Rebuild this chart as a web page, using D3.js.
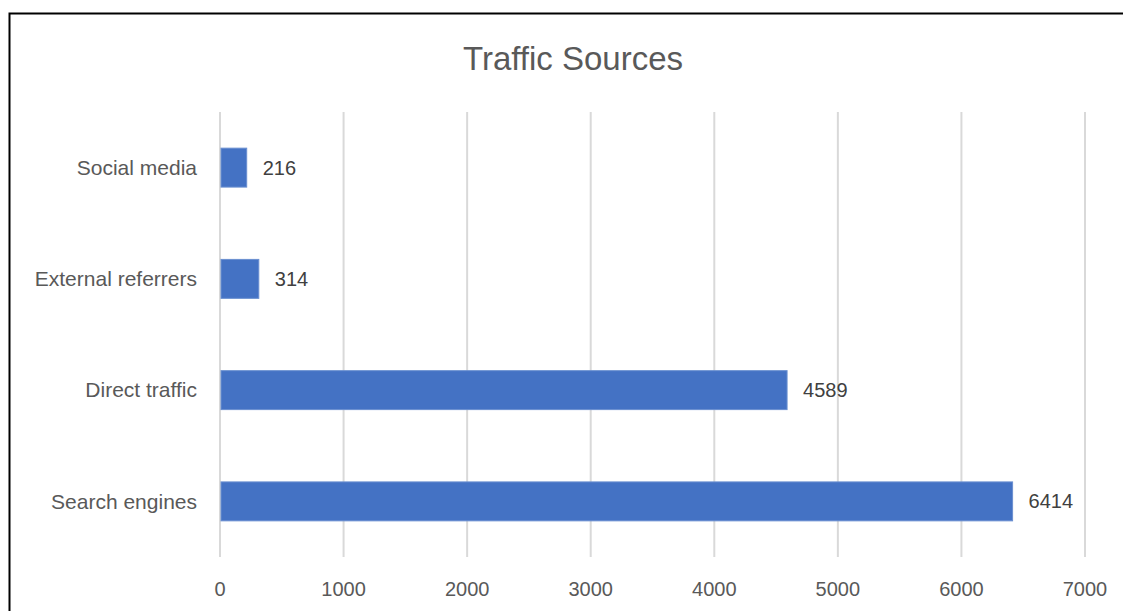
<!DOCTYPE html>
<html>
<head>
<meta charset="utf-8">
<script src="https://cdn.jsdelivr.net/npm/d3@7"></script>
<style>
  body { margin: 0; background: #fff; }
  text { font-family: "Liberation Sans", Arial, sans-serif; }
</style>
</head>
<body>
<div id="chart"></div>
<script>
// chart data
var categories = ["Search engines", "Direct traffic", "External referrers", "Social media"];
var values = [6414, 4589, 314, 216];
var xTicks = [0, 1000, 2000, 3000, 4000, 5000, 6000, 7000];

var W = 1123, H = 611;
var margin = { top: 112, left: 220, right: 38, bottom: 54 };
var width = W - margin.left - margin.right;
var height = H - margin.top - margin.bottom;

var svg = d3.select("#chart")
    .append("svg")
    .attr("width", W)
    .attr("height", H);

// outer frame (only top and left edges visible)
svg.append("rect")
    .attr("x", 9.5).attr("y", 13.5)
    .attr("width", W + 10).attr("height", H + 10)
    .attr("fill", "none")
    .attr("stroke", "#000")
    .attr("stroke-width", 2);

svg.append("text")
    .attr("x", 573).attr("y", 70)
    .attr("text-anchor", "middle")
    .attr("font-size", 33)
    .attr("fill", "#595959")
    .text("Traffic Sources");

var g = svg.append("g")
    .attr("transform", "translate(" + margin.left + "," + margin.top + ")");

var x = d3.scaleLinear().domain([0, 7000]).range([0, width]);
var y = d3.scaleBand().domain(categories.slice().reverse()).range([0, height]).paddingInner(0.65).paddingOuter(0.325);

// gridlines
g.selectAll(".grid")
    .data(xTicks)
    .enter()
    .append("line")
    .attr("class", "grid")
    .attr("x1", d => x(d)).attr("x2", d => x(d))
    .attr("y1", 0).attr("y2", height)
    .attr("stroke", "#d9d9d9")
    .attr("stroke-width", 2);

// x tick labels
g.selectAll(".xlab")
    .data(xTicks)
    .enter()
    .append("text")
    .attr("x", d => x(d))
    .attr("y", height + 39)
    .attr("text-anchor", "middle")
    .attr("font-size", 20)
    .attr("fill", "#595959")
    .text(d => d);

// category labels
g.selectAll(".ylab")
    .data(categories)
    .enter()
    .append("text")
    .attr("x", -23)
    .attr("y", d => y(d) + y.bandwidth() / 2)
    .attr("dy", "0.35em")
    .attr("text-anchor", "end")
    .attr("font-size", 21)
    .attr("fill", "#595959")
    .text(d => d);

// bars
g.selectAll(".bar")
    .data(values)
    .enter()
    .append("rect")
    .attr("class", "bar")
    .attr("x", x(0) + 1)
    .attr("y", (d, i) => y(categories[i]))
    .attr("width", d => x(d) - x(0) - 1)
    .attr("height", y.bandwidth())
    .attr("fill", "#4472c4")
    .attr("stroke", "#6a8fd0")
    .attr("stroke-width", 1);

// value labels
g.selectAll(".val")
    .data(values)
    .enter()
    .append("text")
    .attr("x", d => x(d) + 16)
    .attr("y", (d, i) => y(categories[i]) + y.bandwidth() / 2)
    .attr("dy", "0.35em")
    .attr("font-size", 20)
    .attr("fill", "#404040")
    .text(d => d);
</script>
</body>
</html>
